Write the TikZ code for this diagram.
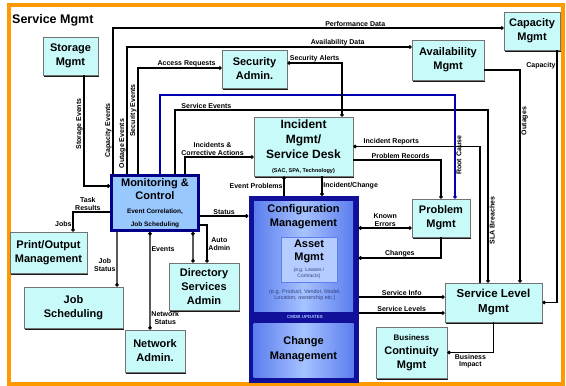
\documentclass[tikz,border=0pt]{standalone}
\usepackage{fontspec}
\setmainfont{Liberation Sans}
\usetikzlibrary{arrows.meta,shadows}

\definecolor{boxfill}{HTML}{C8FAFA}
\definecolor{monfill}{HTML}{99C8FF}
\definecolor{navy}{HTML}{000088}
\definecolor{cmdark}{HTML}{10109A}
\definecolor{cmedge}{HTML}{5C7EEE}
\definecolor{cmmid}{HTML}{A6C2FF}
\definecolor{assetfill}{HTML}{B4CCFF}
\definecolor{frameorange}{HTML}{FF9900}
\definecolor{linkblue}{HTML}{0000B0}
\definecolor{smalltxt}{HTML}{34447A}

\tikzset{
  mgmt/.style={draw=black!55, line width=0.6pt, fill=boxfill, align=center,
    font=\fontsize{11}{14}\selectfont\bfseries, inner sep=1pt,
    general shadow={fill=black!90, shadow xshift=1.2pt, shadow yshift=-2.4pt}},
  conn/.style={draw=black, line width=1.3pt},
  bluelink/.style={draw=linkblue, line width=1.4pt},
  endtip/.style={-{Circle[length=3.6pt]}},
  bothtip/.style={{Circle[length=3.6pt]}-{Circle[length=3.6pt]}},
  starttip/.style={{Circle[length=3.6pt]}-},
  lbl/.style={font=\fontsize{7}{7.6}\selectfont\bfseries, inner sep=0.8pt, align=center},
  cmpart/.style={left color=cmedge, right color=cmedge, middle color=cmmid, inner sep=0pt},
}

\begin{document}
\begin{tikzpicture}[x=1pt,y=-1pt]
\useasboundingbox (0,0) rectangle (566,386);
\fill[white] (0,0) rectangle (566,386);
\draw[frameorange, line width=4.5pt] (9,5) rectangle (563,384);

\node[anchor=west, font=\fontsize{12.5}{14}\selectfont\bfseries, inner sep=0pt] (title) at (12,20) {Service Mgmt};

% management boxes
\node[mgmt, minimum width=55, minimum height=38] (stor) at (70.5,56) {Storage\\Mgmt};
\node[mgmt, minimum width=65, minimum height=38] (sec) at (254.5,69) {Security\\Admin.};
\node[mgmt, minimum width=72, minimum height=40] (avail) at (448,60) {Availability\\Mgmt};
\node[mgmt, minimum width=56, minimum height=38] (cap) at (532,31) {Capacity\\Mgmt};
\node[mgmt, minimum width=99, minimum height=59, font=\fontsize{12}{15}\selectfont\bfseries] (inc) at (303.5,146.5)
  {Incident\\Mgmt/\\Service Desk\\[-1pt]{\fontsize{5.5}{6.5}\selectfont (SAC, SPA, Technology)}};
\node[mgmt, minimum width=58, minimum height=38] (prob) at (441,218) {Problem\\Mgmt};
\node[mgmt, minimum width=97, minimum height=39, font=\fontsize{11.5}{15}\selectfont\bfseries] (slm) at (493.5,302.5) {Service Level\\Mgmt};
\node[mgmt, minimum width=71, minimum height=51] (bcm) at (411.5,352.5) {{\fontsize{8}{10}\selectfont Business}\\Continuity\\Mgmt};
\node[mgmt, minimum width=77, minimum height=41] (print) at (48.5,252.5) {Print/Output\\Management};
\node[mgmt, minimum width=99, minimum height=41] (jobs) at (73.5,307.5) {Job\\Scheduling};
\node[mgmt, minimum width=70, minimum height=47] (dir) at (204,286.5) {Directory\\Services\\Admin};
\node[mgmt, minimum width=60, minimum height=42] (net) at (155,351) {Network\\Admin.};

% monitoring & control
\node[draw=navy, line width=2.8pt, fill=monfill, minimum width=87, minimum height=55, align=center,
  inner sep=1pt, font=\fontsize{11}{13}\selectfont\bfseries] (mon) at (155,203)
  {Monitoring \&\\Control\\[1pt]{\fontsize{6.5}{7.5}\selectfont Event Correlation,}\\{\fontsize{6.5}{7.5}\selectfont Job Scheduling}};

% configuration management block
\node[fill=cmdark, minimum width=110, minimum height=187, inner sep=0pt] (cfg) at (303.5,289.5) {};
\node[cmpart, minimum width=99, minimum height=110] (cfgtop) at (303.5,256) {};
\node[font=\fontsize{11}{14}\selectfont\bfseries, align=center, inner sep=0pt] (cfgtxt) at (303.5,217) {Configuration\\Management};
\node[fill=assetfill, draw=cmedge, line width=0.6pt, minimum width=56, minimum height=45, inner sep=0pt] (asset) at (309,259.5) {};
\node[font=\fontsize{11}{13}\selectfont\bfseries, align=center, inner sep=0pt] (assettxt) at (309,251) {Asset\\Mgmt};
\node[font=\fontsize{5}{6}\selectfont, text=smalltxt, align=center, inner sep=0pt] (assetsub) at (309,273) {(e.g. Leases /\\Contracts)};
\node[font=\fontsize{5.5}{6.5}\selectfont, text=smalltxt, align=center, inner sep=0pt] (cfgsub) at (305,295) {(e.g. Product, Vendor, Model,\\Location, ownership etc.)};
\node[font=\fontsize{4.5}{5}\selectfont\bfseries, text=cmmid, inner sep=0pt] (strip) at (305,316.5) {CMDB UPDATES};
\node[cmpart, minimum width=100, minimum height=54] (chg) at (303.5,350) {};
\node[font=\fontsize{11}{15}\selectfont\bfseries, align=center, inner sep=0pt] (chgtxt) at (303.5,349) {Change\\Management};

% lines leaving the top of Monitoring & Control
\draw[conn,endtip] ([xshift=3pt]mon.north west) |- ([yshift=3pt]cap.west)
  node[lbl,pos=0.81,above] (la) {Performance Data}
  node[lbl,pos=0.15,rotate=90,anchor=south] (la2) {Capacity Events};
\draw[conn,endtip] ([xshift=17pt]mon.north west) |- ([yshift=13pt]avail.west)
  node[lbl,pos=0.87,above] (lb) {Availability Data}
  node[lbl,pos=0.12,rotate=90,anchor=south] (lb2) {Outage Events};
\draw[conn,endtip] ([xshift=28pt]mon.north west) |- ([yshift=1pt]sec.west)
  node[lbl,pos=0.79,above] (lc) {Access Requests}
  node[lbl,pos=0.3,rotate=90,anchor=south] (lc2) {Security Events};
\draw[conn,endtip] ([xshift=65pt]mon.north west) -- ++(0,-64) -| ([xshift=-5.5pt]slm.north)
  node[lbl,pos=0.05,above] (ld) {Service Events}
  node[lbl,pos=0.82,rotate=90,anchor=north] (ld2) {SLA Breaches};
\draw[bluelink,endtip] ([xshift=50pt]mon.north west) -- ++(0,-79) -| ([xshift=14pt]prob.north)
  node[lbl,pos=0.79,rotate=90,anchor=north] (lblue) {Root Cause};
\draw[conn,endtip] ([xshift=75pt]mon.north west) |- ([yshift=-10.5pt]inc.west)
  node[lbl,pos=0.7,above] (li) {Incidents \&\\Corrective Actions};

% security, availability, capacity
\draw[conn,bothtip] ([yshift=6pt]sec.east) -| ([xshift=38.5pt]inc.north)
  node[lbl,pos=0.25,above] (le) {Security Alerts};
\draw[conn,endtip] ([yshift=-10pt]avail.east) -| ([xshift=26.5pt]slm.north)
  node[lbl,pos=0.62,rotate=90,anchor=north] (lf) {Outages};
\draw[conn,endtip] ([xshift=25pt]cap.south) |- (slm.east)
  node[lbl,pos=0.03,left] (lg) {Capacity};

% incident / problem
\draw[conn,starttip] (inc.east) -| ([xshift=-13.5pt]slm.north)
  node[lbl,pos=0.15,above] (lj) {Incident Reports};
\draw[conn,endtip] ([yshift=-13.5pt]inc.east) -| (prob.north)
  node[lbl,pos=0.27,above] (lk) {Problem Records};

% into configuration management
\draw[conn,starttip] ([xshift=-19.5pt]inc.south) -- ([xshift=-19.5pt]cfg.north)
  node[lbl,midway,left] (ll1) {Event Problems};
\draw[conn,endtip] ([xshift=18.5pt]inc.south) -- ([xshift=18.5pt]cfg.north)
  node[lbl,midway,right] (ll2) {Incident/Change};
\draw[conn,endtip] ([yshift=-13pt]mon.east) -- ([yshift=73.5pt]cfg.west)
  node[lbl,midway,above] (lm) {Status};
\draw[conn,bothtip] ([yshift=61.5pt]cfg.east) -- ([yshift=-10pt]prob.west)
  node[lbl,midway,above] (ln) {Known\\Errors};
\draw[conn,endtip] (prob.south) |- ([yshift=31.5pt]cfg.east)
  node[lbl,pos=0.75,above] (lo) {Changes};
\draw[conn,endtip] ([yshift=-7.5pt]cfg.east) -- ([yshift=5.5pt]slm.west)
  node[lbl,midway,above] (lp) {Service Info};
\draw[conn,endtip] ([yshift=-23.5pt]cfg.east) -- ([yshift=-10.5pt]slm.west)
  node[lbl,midway,above] (lq) {Service Levels};
\draw[conn,endtip] (slm.south) |- (bcm.east)
  node[lbl,pos=0.75,below] (lr) {Business\\Impact};

% left side of Monitoring & Control
\draw[conn,endtip] ([xshift=13.5pt]stor.south) |- ([yshift=17pt]mon.west)
  node[lbl,pos=0.22,rotate=90,anchor=south] (ls) {Storage Events};
\draw[conn,endtip] ([yshift=-9pt]mon.west) -| ([xshift=24.5pt]print.north)
  node[lbl,pos=0.3,above] (lt1) {Task\\Results}
  node[lbl,pos=0.8,left] (lt2) {Jobs};
\draw[conn,endtip] ([xshift=7pt]mon.south west) -- ([xshift=43.5pt]jobs.north)
  node[lbl,pos=0.6,left] (lu) {Job\\Status};
\draw[conn,bothtip] ([xshift=40pt]mon.south west) -- ([xshift=-5pt]net.north)
  node[lbl,pos=0.18,right] (lv1) {Events}
  node[lbl,pos=0.88,right] (lv2) {Network\\Status};
\draw[conn,bothtip] ([xshift=-7pt]mon.south east) -- ([xshift=-11pt]dir.north);
\draw[conn,endtip] ([yshift=-22pt]mon.east) -| ([xshift=3pt]dir.north)
  node[lbl,pos=0.75,right] (lw) {Auto\\Admin};
\end{tikzpicture}
\end{document}
